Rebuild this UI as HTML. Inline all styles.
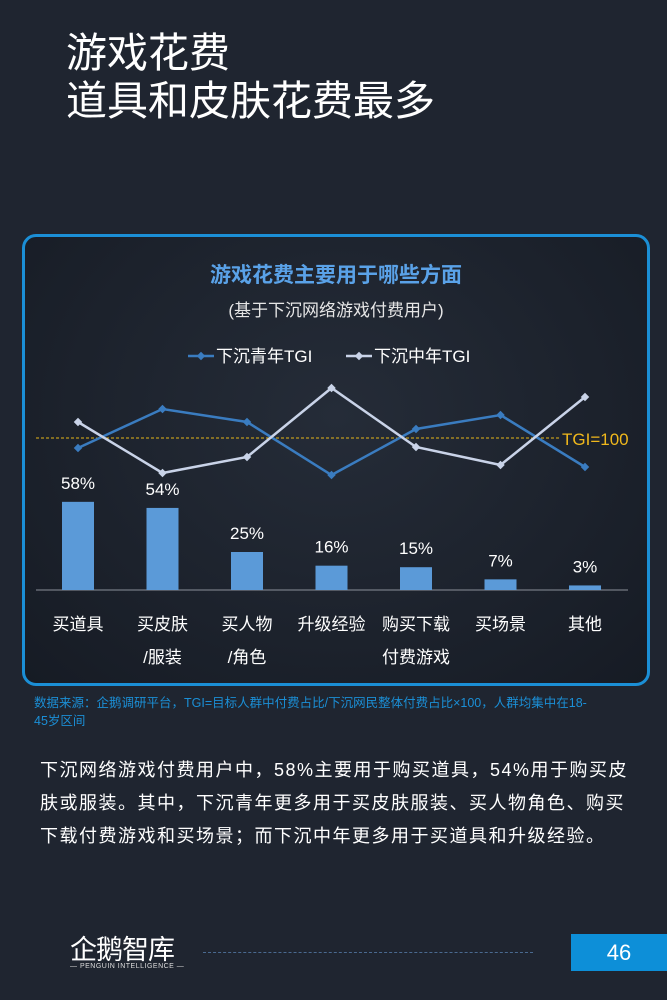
<!DOCTYPE html>
<html><head><meta charset="utf-8">
<style>
body{margin:0;width:667px;height:1000px;background:#1f2530;overflow:hidden;position:relative;font-family:"Liberation Sans","Noto Sans CJK SC",sans-serif;color:#fff}
.abs{position:absolute}
</style></head><body>
<div class="abs" style="left:66px;top:29px;font-size:41px;line-height:48px;color:#fff">游戏花费<br>道具和皮肤花费最多</div>
<div class="abs" style="left:22px;top:234px;width:622px;height:446px;border:3px solid #1b8fd6;border-radius:14px;background:radial-gradient(ellipse at 50% 40%,#252c38,#161b24)"></div>
<div class="abs" style="left:22px;width:628px;top:259px;text-align:center;font-size:21px;font-weight:bold;color:#5aa2e8">游戏花费主要用于哪些方面</div>
<div class="abs" style="left:22px;width:628px;top:296px;text-align:center;font-size:17px;color:#e6e6e6">(基于下沉网络游戏付费用户)</div>
<svg class="abs" style="left:0;top:0" width="667" height="1000" id="chart"></svg>
<div class="abs" style="left:34px;top:694px;width:566px;font-size:12.5px;line-height:18px;color:#1b8fd6">数据来源：企鹅调研平台，TGI=目标人群中付费占比/下沉网民整体付费占比×100，人群均集中在18-45岁区间</div>
<div class="abs" style="left:40px;top:754px;width:592px;font-size:18px;line-height:33px;letter-spacing:1.5px;color:#fff">下沉网络游戏付费用户中，58%主要用于购买道具，54%用于购买皮肤或服装。其中，下沉青年更多用于买皮肤服装、买人物角色、购买下载付费游戏和买场景；而下沉中年更多用于买道具和升级经验。</div>
<div class="abs" style="left:70px;top:928px;font-size:27px;color:#fff;letter-spacing:-1px">企鹅智库</div>
<div class="abs" style="left:70px;top:963px;font-size:7px;color:#ddd;letter-spacing:0.5px">— PENGUIN INTELLIGENCE —</div>
<div class="abs" style="left:203px;top:952px;width:330px;border-top:1px dashed #4a6a90"></div>
<div class="abs" style="left:571px;top:934px;width:96px;height:37px;background:#0d8fd8;font-size:22px;line-height:37px;text-align:center;color:#fff">46</div>
<script>
const categories=["买道具","买皮肤\n/服装","买人物\n/角色","升级经验","购买下载\n付费游戏","买场景","其他"];
const shares=[58,54,25,16,15,7,3];
const youngTGI=[90,129,116,63,109,123,71];
const middleTGI=[116,65,81,150,91,73,141];
const legendLabels=["下沉青年TGI","下沉中年TGI"];
const svg=document.getElementById('chart');
const NS='http://www.w3.org/2000/svg';
const x=i=>78+i*84.5;
const yBar=v=>590-v*1.52;
const yT=v=>438-(v-100)*1.0;
function mk(t,a){const e=document.createElementNS(NS,t);for(const k in a)e.setAttribute(k,a[k]);svg.appendChild(e);return e;}
let bl=mk('line',{x1:36,x2:628,y1:590,y2:590,stroke:'#8a8f99','stroke-width':1});


shares.forEach((v,i)=>{
 const r=mk('rect',{x:x(i)-16,y:yBar(v),width:32,height:590-yBar(v),fill:'#5b9ad8'});
 
 
 const t=mk('text',{x:x(i),y:yBar(v)-13,'text-anchor':'middle','font-size':17,fill:'#fff'});
 t.textContent=v+'%';
 
 
 categories[i].split('\n').forEach((ln,j)=>{
  const c=mk('text',{x:x(i),y:630+j*33,'text-anchor':'middle','font-size':17,fill:'#fff'});
  c.textContent=ln;
  
  
 });
});
let ref=mk('line',{x1:36,x2:560,y1:yT(100),y2:yT(100),stroke:'#e6b619','stroke-width':1,'stroke-dasharray':'3,2'});


let rt=mk('text',{x:562,y:yT(100)+7,'font-size':17,fill:'#f0b81c'});
rt.textContent='TGI=100';


[[youngTGI,'#3a7cc0'],[middleTGI,'#c9d3e8']].forEach(([arr,col],s)=>{
 const p=mk('polyline',{points:arr.map((v,i)=>x(i)+','+yT(v)).join(' '),fill:'none',stroke:col,'stroke-width':2.5});
 
 
 arr.forEach((v,i)=>{
  const d=mk('rect',{x:x(i)-3,y:yT(v)-3,width:6,height:6,fill:col,transform:`rotate(45 ${x(i)} ${yT(v)})`});
  
  
 });
 const lx=s?346:188;
 const ll=mk('line',{x1:lx,x2:lx+26,y1:356,y2:356,stroke:col,'stroke-width':2.5});
 
 
 mk('rect',{x:lx+10,y:353,width:6,height:6,fill:col,transform:`rotate(45 ${lx+13} 356)`});
 const lt=mk('text',{x:lx+28,y:362,'font-size':17,fill:'#fff'});
 lt.textContent=legendLabels[s];
 
 
});
</script>
</body></html>
